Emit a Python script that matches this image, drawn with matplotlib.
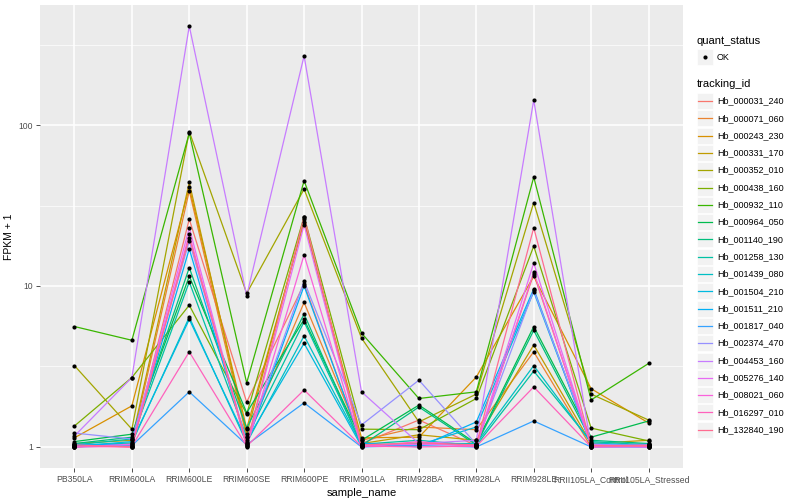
import matplotlib
matplotlib.use("Agg")
import matplotlib.pyplot as plt
from matplotlib.patches import Rectangle
import numpy as np

plt.rcParams['font.family'] = ['Liberation Sans', 'DejaVu Sans']

# samples on the x axis
samples = ['PB350LA', 'RRIM600LA', 'RRIM600LE', 'RRIM600SE', 'RRIM600PE', 'RRIM901LA',
           'RRIM928BA', 'RRIM928LA', 'RRIM928LE', 'RRII105LA_Control', 'RRII105LA_Stressed']

genes = ['Hb_000031_240', 'Hb_000071_060', 'Hb_000243_230', 'Hb_000331_170', 'Hb_000352_010',
         'Hb_000438_160', 'Hb_000932_110', 'Hb_000964_050', 'Hb_001140_190', 'Hb_001258_130',
         'Hb_001439_080', 'Hb_001504_210', 'Hb_001511_210', 'Hb_001817_040', 'Hb_002374_470',
         'Hb_004453_160', 'Hb_005276_140', 'Hb_008021_060', 'Hb_016297_010', 'Hb_132840_190']

# ggplot hue palette, 20 levels
colors = ['#F8766D', '#EA8331', '#D89000', '#C09B00', '#A3A500', '#7CAE00', '#39B600', '#00BB4E',
          '#00BF7D', '#00C1A3', '#00BFC4', '#00BAE0', '#00B0F6', '#35A2FF', '#9590FF', '#C77CFF',
          '#E76BF3', '#FA62DB', '#FF62BC', '#FF6C91']

# FPKM + 1 per gene, one value per sample
fpkm = [
    [1.02, 1.0, 26, 1.9, 10.3, 1.05, 1.47, 1.02, 11.9, 1.02, 1.0],
    [1.0, 1.05, 39, 1.15, 7.9, 1.1, 1.33, 1.28, 3.9, 1.0, 1.05],
    [1.14, 1.8, 41, 1.3, 25, 1.14, 1.15, 2.72, 11.5, 2.3, 1.41],
    [1.05, 1.1, 44, 1.2, 26, 1.05, 1.19, 1.1, 4.3, 1.05, 1.1],
    [3.2, 1.29, 91, 9.0, 40, 4.75, 1.43, 2.13, 33, 2.13, 1.47],
    [1.35, 2.7, 7.6, 1.6, 27, 1.29, 1.28, 2.0, 17.7, 1.31, 1.09],
    [5.6, 4.6, 89, 2.5, 45, 5.1, 2.0, 2.2, 47.5, 1.96, 3.3],
    [1.08, 1.2, 11.5, 1.63, 6.2, 1.1, 1.82, 1.05, 5.6, 1.15, 1.45],
    [1.05, 1.15, 13, 1.31, 6.7, 1.02, 1.77, 1.03, 5.3, 1.1, 1.05],
    [1.03, 1.12, 10.6, 1.15, 6.0, 1.04, 1.1, 1.02, 2.96, 1.08, 1.03],
    [1.02, 1.06, 6.4, 1.06, 4.9, 1.03, 1.05, 1.05, 3.2, 1.06, 1.02],
    [1.01, 1.08, 6.2, 1.1, 4.4, 1.01, 1.03, 1.33, 9.2, 1.03, 1.04],
    [1.04, 1.03, 17, 1.05, 10.0, 1.06, 1.0, 1.43, 9.6, 1.02, 1.01],
    [1.0, 1.02, 2.2, 1.03, 1.88, 1.0, 1.02, 1.0, 1.45, 1.0, 1.0],
    [1.22, 1.12, 19, 1.08, 10.7, 1.37, 2.6, 1.04, 9.4, 1.04, 1.02],
    [1.17, 2.7, 412, 8.7, 269, 2.2, 1.05, 1.1, 143, 1.0, 1.0],
    [1.0, 1.04, 23, 1.02, 24, 1.02, 1.04, 1.02, 13.9, 1.03, 1.0],
    [1.01, 1.0, 21, 1.0, 15.6, 1.0, 1.08, 1.0, 12.2, 1.01, 1.03],
    [1.0, 1.01, 3.9, 1.01, 2.26, 1.01, 1.0, 1.01, 2.36, 1.0, 1.01],
    [1.03, 1.0, 20, 1.04, 27, 1.03, 1.06, 1.03, 23, 1.02, 1.02],
]

fig = plt.figure(figsize=(8, 5), dpi=100)
ax = fig.add_axes([40/800, 1 - 468/500, (683-40)/800, (468-5)/500])
ax.set_facecolor('#EBEBEB')
for s in ax.spines.values():
    s.set_visible(False)

x = np.arange(len(samples))
for vals, c in zip(fpkm, colors):
    ax.plot(x, vals, color=c, lw=0.9, zorder=2)
for vals in fpkm:
    ax.plot(x, vals, 'o', color='black', ms=3.0, mew=0, zorder=3)

ax.set_yscale('log')
allv = np.log10(np.array(fpkm))
lo, hi = allv.min(), allv.max()
pad = 0.05 * (hi - lo)
ax.set_ylim(10**(lo - pad), 10**(hi + pad))
ax.set_xlim(-0.6, len(samples) - 0.4)

ax.set_yticks([1, 10, 100])
ax.set_yticklabels(['1', '10', '100'])
ax.set_yticks([10**0.5, 10**1.5, 10**2.5], minor=True)
ax.yaxis.set_minor_formatter(matplotlib.ticker.NullFormatter())
ax.tick_params(axis='y', which='minor', length=0)
ax.set_xticks(x)
ax.set_xticklabels(samples)
ax.tick_params(which='major', length=3, width=0.6, color='#333333',
               labelsize=6.2, labelcolor='#4D4D4D', pad=2)
ax.grid(True, which='major', color='white', lw=1.1)
ax.grid(True, which='minor', axis='y', color='white', lw=0.5)
ax.set_axisbelow(True)

ax.set_xlabel('sample_name', fontsize=8, labelpad=3)
ax.set_ylabel('FPKM + 1', fontsize=7.5, labelpad=3)

# legend drawn in pixel coordinates
lg = fig.add_axes([683/800, 0, 117/800, 1])
lg.set_xlim(683, 800)
lg.set_ylim(500, 0)
lg.axis('off')

lg.text(697, 41, 'quant_status', fontsize=8, va='center', ha='left')
lg.add_patch(Rectangle((697, 49), 16, 16, facecolor='#F2F2F2', edgecolor='white', lw=0.5))
lg.plot([705], [57], 'o', color='black', ms=3.0, mew=0)
lg.text(717, 57, 'OK', fontsize=6.5, va='center', ha='left')

lg.text(697, 84, 'tracking_id', fontsize=8, va='center', ha='left')
for i, (g, c) in enumerate(zip(genes, colors)):
    yc = 101 + 17.3 * i
    lg.add_patch(Rectangle((697, yc - 8), 16, 16, facecolor='#F2F2F2', edgecolor='white', lw=0.5))
    lg.plot([698, 712], [yc, yc], color=c, lw=0.9)
    lg.text(717, yc, g, fontsize=6.5, va='center', ha='left')

fig.savefig('out.png', dpi=100)
